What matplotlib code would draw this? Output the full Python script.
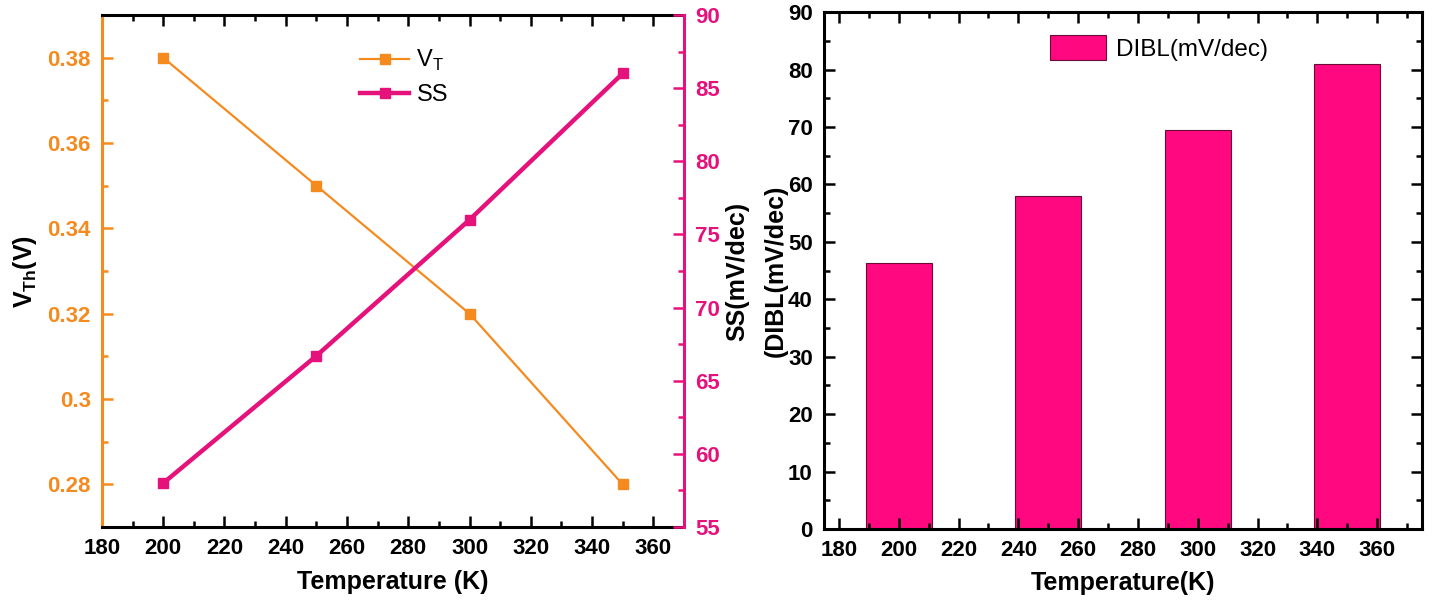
import matplotlib
matplotlib.use("Agg")
import matplotlib.pyplot as plt
from matplotlib.ticker import MultipleLocator

plt.rcParams['font.family'] = ['Liberation Sans', 'DejaVu Sans']
plt.rcParams['mathtext.fontset'] = 'custom'
plt.rcParams['mathtext.rm'] = 'Liberation Sans'
plt.rcParams['mathtext.bf'] = 'Liberation Sans:bold'

# Data
temperature = [200, 250, 300, 350]
vth = [0.38, 0.35, 0.32, 0.28]
ss = [58, 66.7, 76, 86]
dibl = [46.4, 58, 69.5, 81]

ORANGE = '#F58A1F'
MAGENTA = '#E6127C'
BAR = '#FF0880'

fig = plt.figure(figsize=(14.32, 6.01), dpi=100)

# ---- left panel: threshold voltage and subthreshold swing ----
ax = fig.add_axes([0.0712, 0.1231, 0.4064, 0.852])
ax2 = ax.twinx()

l1, = ax.plot(temperature, vth, color=ORANGE, lw=1.6, marker='s', ms=7,
              label=r'V$_\mathrm{T}$')
l2, = ax2.plot(temperature, ss, color=MAGENTA, lw=3.2, marker='s', ms=7,
               label='SS')

ax.set_xlim(180, 370)
ax.set_ylim(0.27, 0.39)
ax2.set_ylim(55, 90)

ax.xaxis.set_major_locator(MultipleLocator(20))
ax.xaxis.set_minor_locator(MultipleLocator(10))
ax.yaxis.set_major_locator(MultipleLocator(0.02))
ax.yaxis.set_minor_locator(MultipleLocator(0.01))
ax2.yaxis.set_major_locator(MultipleLocator(5))
ax2.yaxis.set_minor_locator(MultipleLocator(2.5))

ax.set_yticks([0.28, 0.30, 0.32, 0.34, 0.36, 0.38])
ax.set_yticklabels(['0.28', '0.3', '0.32', '0.34', '0.36', '0.38'])

for sp in ('top', 'bottom'):
    ax.spines[sp].set_linewidth(2.2)
    ax.spines[sp].set_color('black')
ax.spines['left'].set_linewidth(2.2)
ax.spines['left'].set_color(ORANGE)
ax2.spines['right'].set_linewidth(2.2)
ax2.spines['right'].set_color(MAGENTA)
ax2.spines['left'].set_visible(False)
ax2.spines['top'].set_visible(False)
ax2.spines['bottom'].set_visible(False)

ax.tick_params(axis='x', which='both', direction='in', top=True, color='black',
               width=1.8, labelsize=16, pad=8)
ax.tick_params(axis='x', which='major', length=8)
ax.tick_params(axis='x', which='minor', length=4)
ax.tick_params(axis='y', which='both', direction='in', color=ORANGE,
               labelcolor=ORANGE, width=1.8, labelsize=16, pad=8)
ax.tick_params(axis='y', which='major', length=8)
ax.tick_params(axis='y', which='minor', length=4)
ax2.tick_params(axis='y', which='both', direction='in', color=MAGENTA,
                labelcolor=MAGENTA, width=1.8, labelsize=16, pad=8)
ax2.tick_params(axis='y', which='major', length=8)
ax2.tick_params(axis='y', which='minor', length=4)

for lab in ax.get_xticklabels() + ax.get_yticklabels() + ax2.get_yticklabels():
    lab.set_fontweight('bold')

ax.set_xlabel('Temperature (K)', fontsize=18, fontweight='bold', labelpad=8)
ax.set_ylabel(r'V$_\mathbf{Th}$(V)', fontsize=18, fontweight='bold', labelpad=6)
ax2.set_ylabel('SS(mV/dec)', fontsize=18, fontweight='bold', labelpad=4)

ax.legend(handles=[l1, l2], loc='upper left', bbox_to_anchor=(0.443, 0.935),
          frameon=False, fontsize=17, handlelength=2.1, handletextpad=0.3,
          labelspacing=0.45, borderaxespad=0, borderpad=0)

# ---- right panel: DIBL ----
bx = fig.add_axes([0.5754, 0.1198, 0.4176, 0.860])
bx.bar(temperature, dibl, width=22, color=BAR, edgecolor='#6a0a35', linewidth=0.8,
       label='DIBL(mV/dec)')
bx.set_xlim(175, 375)
bx.set_ylim(0, 90)
bx.xaxis.set_major_locator(MultipleLocator(20))
bx.xaxis.set_minor_locator(MultipleLocator(10))
bx.yaxis.set_major_locator(MultipleLocator(10))
bx.yaxis.set_minor_locator(MultipleLocator(5))
for sp in bx.spines.values():
    sp.set_linewidth(2.2)
bx.tick_params(which='both', direction='in', top=True, right=True,
               width=1.8, labelsize=16, pad=8)
bx.tick_params(which='major', length=8)
bx.tick_params(which='minor', length=4)
for lab in bx.get_xticklabels() + bx.get_yticklabels():
    lab.set_fontweight('bold')
bx.set_xlabel('Temperature(K)', fontsize=18, fontweight='bold', labelpad=7)
bx.set_ylabel('(DIBL(mV/dec)', fontsize=18, fontweight='bold', labelpad=0)
bx.legend(loc='upper left', bbox_to_anchor=(0.378, 0.955), frameon=False,
          fontsize=17.5, handlelength=2.3, handleheight=1.15, handletextpad=0.4,
          borderaxespad=0, borderpad=0)

fig.savefig('out.png', dpi=100)
